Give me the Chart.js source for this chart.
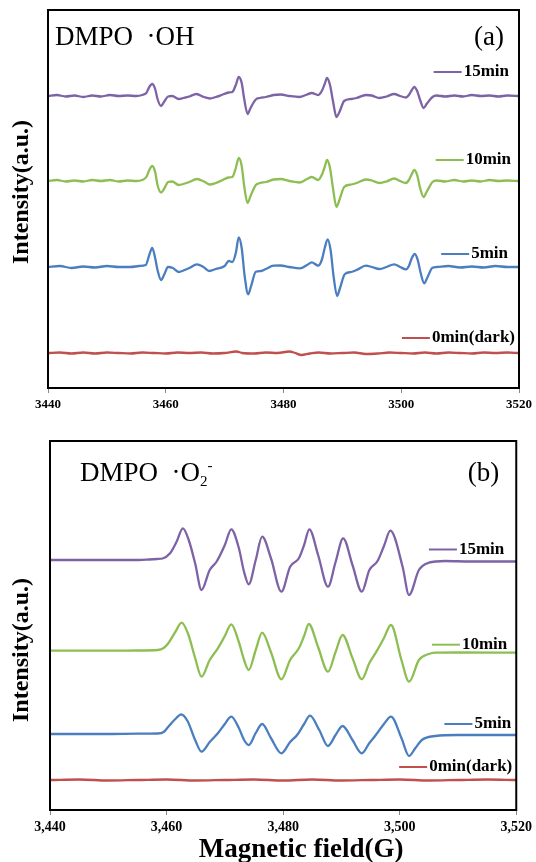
<!DOCTYPE html>
<html>
<head>
<meta charset="utf-8">
<script src="https://cdn.jsdelivr.net/npm/chart.js@4.4.0/dist/chart.umd.min.js"></script>
<style>
    html, body { margin: 0; padding: 0; background: #fff; }
    #wrap { position: relative; width: 536px; height: 862px; }
    #chartA { position: absolute; left: 0; top: 0; }
    #chartB { position: absolute; left: 0; top: 430px; }
</style>
</head>
<body>
<div id="wrap">
    <canvas id="chartA" width="536" height="430"></canvas>
    <canvas id="chartB" width="536" height="432"></canvas>
</div>
<script>
// Magnetic field axis (G)
const fieldMin = 3440;
const fieldMax = 3520;
const fieldStep = 20;

const seriesLabels = ['15min', '10min', '5min', '0min(dark)'];

// Panel (a): DMPO-OH, [field, intensity a.u. incl. vertical offset]
const ohMin15 = [[3440,292],[3441.5,293],[3443,291.5],[3444.5,292.5],[3446,291],[3447.5,292.5],[3449,291.5],[3450.5,293],[3452,292],[3453.5,292.5],[3455,292],[3456,293],[3456.7,295],[3457.2,301],[3457.7,304],[3458.2,299],[3458.6,289],[3459.2,282],[3459.7,286],[3460.4,291.5],[3461.1,292],[3462.2,289],[3463,290],[3464,291.5],[3465.2,294],[3466.5,291],[3467.5,289.5],[3468.5,291],[3469.5,293],[3470.7,295.5],[3471.3,296],[3471.9,303],[3472.4,311],[3472.9,305],[3473.3,290],[3473.9,274],[3474.4,280],[3475.3,288.5],[3476,290],[3477,291],[3478.3,293],[3479.5,293.5],[3481,292],[3482.7,291],[3484,293.5],[3484.8,295],[3485.9,293],[3486.5,297],[3487,304],[3487.4,310],[3487.9,303],[3488.4,287],[3489,271],[3489.5,276],[3490.3,287],[3491.5,289],[3492.4,290],[3494,293],[3495,292.5],[3496.3,290],[3497.5,291.5],[3498.8,294],[3499.8,292],[3500.8,290.5],[3501.3,293],[3501.8,298],[3502.2,301],[3502.7,297],[3503.2,288],[3503.8,280],[3504.3,284],[3505.3,291],[3506,292.5],[3507.5,291.5],[3509,292.5],[3510.5,291.5],[3512,293],[3513.5,292],[3515,292.5],[3516.5,291.5],[3518,292.5],[3520,292]];
const ohMin10 = [[3440,207],[3441.5,208],[3443,206.5],[3444.5,207.5],[3446,206.5],[3447.5,208],[3449,207],[3450.5,208],[3452,206.5],[3453.5,207.5],[3455,207],[3456,208],[3456.7,211],[3457.2,218],[3457.7,222],[3458.2,216],[3458.6,203],[3459.2,195.5],[3459.7,199],[3460.4,206],[3461.1,206.5],[3462.2,203],[3463,204],[3464,206],[3465.3,209],[3466.5,206.5],[3467.5,203.5],[3468.5,205],[3469.5,207.5],[3470.7,210.5],[3471.3,211],[3471.9,220],[3472.4,230],[3472.9,222],[3473.3,203],[3473.9,185],[3474.4,192],[3475.3,203],[3476,205],[3477,206],[3478.3,208.5],[3479.5,209],[3481,207],[3482.7,205.5],[3484,209],[3484.8,211],[3485.9,208],[3486.5,213],[3487,221],[3487.4,228],[3487.9,220],[3488.4,200],[3489,181],[3489.5,188],[3490.3,201],[3491.5,203.5],[3492.4,205],[3494,208.5],[3495,207.5],[3496.3,205],[3497.5,206.5],[3498.8,209.5],[3499.8,207],[3500.8,205],[3501.3,208],[3501.8,214],[3502.2,218],[3502.7,213],[3503.2,200],[3503.8,191],[3504.3,196],[3505.3,206],[3506,207.5],[3507.5,206.5],[3509,208],[3510.5,206.5],[3512,207.5],[3513.5,206.5],[3515,208],[3516.5,207],[3518,207.5],[3520,207]];
const ohMin5 = [[3440,121],[3442,122],[3444,120],[3446,121.5],[3448,120.5],[3450,122],[3452,121],[3454,121],[3455.5,122],[3456.6,123],[3457.2,133],[3457.7,140],[3458.2,130],[3458.6,118],[3459.2,108],[3459.7,113],[3460.4,121],[3461.2,120],[3462.2,116],[3463,117.5],[3464,120],[3465.3,123.7],[3466.4,121],[3467.4,117],[3468.5,119],[3470,122],[3470.7,127],[3471.3,126],[3471.9,135],[3472.4,150.7],[3472.9,140],[3473.4,112],[3474,93.7],[3474.5,102],[3475.3,116.3],[3476.2,117],[3477,119],[3478.3,122.3],[3479.5,122.5],[3481,121],[3482.8,119.7],[3484,123],[3484.8,125.7],[3485.9,122.3],[3486.5,128],[3487,140],[3487.5,148.7],[3488,138],[3488.5,112],[3489.1,92],[3489.6,100],[3490.4,113.7],[3491.5,116],[3492.4,118],[3494,122.3],[3495,121],[3496.3,119],[3497.5,121],[3498.8,123.7],[3499.8,121],[3500.8,118.7],[3501.3,122],[3501.8,130],[3502.3,134],[3502.8,128],[3503.3,115],[3503.9,104.7],[3504.4,110],[3505.3,120.3],[3506,121],[3508,122],[3510,120.5],[3512,121.5],[3514,120.5],[3516,122],[3518,121],[3520,121]];
const ohMin0 = [[3440,35],[3442,35.5],[3444,34.5],[3446,35.5],[3448,34.5],[3450,35.5],[3452,35],[3454,34.5],[3456,35.5],[3458,35],[3460,34.5],[3462,35.5],[3464,35],[3466,35.5],[3468,34.5],[3470,35],[3472,36.5],[3473,35],[3475,34.5],[3477,35.5],[3479,35],[3481,36.5],[3482,35],[3483,33],[3484.5,34.5],[3486,35.5],[3488,34.5],[3490,35],[3492,35.5],[3494,34],[3496,34.5],[3498,35.5],[3500,35],[3502,34.5],[3504,35.5],[3506,34.5],[3508,35.5],[3510,35],[3512,34.5],[3514,35.5],[3516,35],[3518,35.5],[3520,35]];

// Panel (b): DMPO-O2-
const o2Min15 = [[3440,250],[3445,250],[3450,250],[3455.3,250],[3457,250.5],[3458.4,251],[3459.3,251.5],[3460.6,256.7],[3461.7,268],[3462.8,281.7],[3463.8,270],[3464.9,246.7],[3466,220],[3467.4,240],[3468.6,248.5],[3470,265],[3471.1,280.7],[3472.4,262],[3473.3,238],[3474.1,225.7],[3475.3,250],[3476.4,273.3],[3477.9,252],[3479.7,218.3],[3481.2,243.3],[3482.7,251.7],[3483.6,265],[3484.5,280.7],[3486,255],[3487.7,223.3],[3489,248],[3490.3,271.7],[3491.9,245],[3493.5,218.3],[3494.8,240],[3496.2,249],[3497.3,264],[3498.4,279.3],[3500.5,243.3],[3501.6,215],[3503.3,240],[3505,247.3],[3507.8,249],[3512,248.5],[3520,248.5]];
const o2Min10 = [[3440,159.3],[3450,159.3],[3455,159.5],[3458.5,160],[3459.5,162],[3460.3,166.7],[3461.5,178],[3462.6,187.3],[3463.7,176],[3464.9,152],[3466,133.3],[3467.4,150],[3468.8,161.7],[3470,174],[3471.1,185.7],[3472.4,168],[3473.3,150],[3474.1,140],[3475.3,160],[3476.4,177.3],[3477.9,158],[3479.7,130.7],[3481.2,150],[3482.7,161.7],[3483.6,174],[3484.4,186],[3486,163],[3487.7,138.3],[3489,158],[3490.2,175],[3491.9,152],[3493.5,130.7],[3494.8,147],[3496,158.3],[3497.3,172],[3498.5,185],[3500.3,150],[3501.6,128.3],[3503.3,150],[3505,156],[3506.1,157.3],[3510,157.5],[3520,157.3]];
const o2Min5 = [[3440,76],[3450,76],[3455,76.3],[3458.5,76.5],[3459.5,78],[3460.3,83.3],[3461.5,91],[3462.5,95.7],[3463.6,89],[3464.9,70],[3466,58.3],[3467.4,68],[3468.8,76.7],[3470,86],[3471.1,93.3],[3472.4,82],[3473.3,70],[3474.1,65],[3475.3,77],[3476.4,86],[3477.9,72],[3479.7,56.7],[3481.2,68],[3482.4,75],[3483.6,86],[3484.6,94.3],[3486.2,80],[3487.7,64],[3489,75],[3490.2,84],[3491.9,70],[3493.5,56.7],[3494.8,67],[3495.9,75],[3497.3,86],[3498.5,93.3],[3500.3,72],[3501.6,54],[3502.7,62],[3503.8,70],[3506.1,74],[3510,75],[3520,75]];
const o2Min0 = [[3440,30],[3445,30.5],[3450,29.5],[3455,30],[3460,30.5],[3465,29.5],[3470,30],[3475,30.5],[3480,29.5],[3485,30.5],[3490,29.5],[3495,30],[3500,30.5],[3505,29.5],[3510,30],[3515,30.5],[3520,30]];

const seriesColors = ['#7D62A6', '#8DBE52', '#4A7EBF', '#C0504D'];

function toXY(pairs) {
    return pairs.map(p => ({ x: p[0], y: p[1] }));
}

function makeDatasets(list) {
    return list.map((pairs, i) => ({
        label: seriesLabels[i],
        data: toXY(pairs),
        borderColor: seriesColors[i],
        borderWidth: 2.3,
        pointRadius: 0,
        fill: false,
        cubicInterpolationMode: 'monotone'
    }));
}

// Draws frame, panel tag, axis titles and the inline labels next to each trace
function makePanelPlugin(opts) {
    return {
        id: 'panel',
        afterDraw(chart) {
            const ctx = chart.ctx;
            const area = chart.chartArea;
            const yScale = chart.scales.y;
            ctx.save();

            ctx.strokeStyle = '#000';
            ctx.lineWidth = 2;
            ctx.strokeRect(area.left, area.top, area.right - area.left, area.bottom - area.top);

            ctx.fillStyle = '#000';
            ctx.textBaseline = 'alphabetic';
            ctx.textAlign = 'left';

            // tag like "DMPO ·OH", pieces may be sub/superscript
            let x = area.left + opts.tagX;
            const baseY = area.top + opts.tagY;
            opts.tag.forEach(piece => {
                const size = piece.small ? 15 : 27;
                ctx.font = size + 'px "Liberation Serif"';
                ctx.fillText(piece.text, x, baseY + piece.shift);
                x += ctx.measureText(piece.text).width;
            });

            ctx.font = '27px "Liberation Serif"';
            ctx.textAlign = 'right';
            ctx.fillText(opts.letter, area.right - opts.letterRight, baseY);

            // y axis title
            ctx.save();
            ctx.translate(opts.yTitleX, opts.yTitleY);
            ctx.rotate(-Math.PI / 2);
            ctx.textAlign = 'center';
            ctx.textBaseline = 'middle';
            ctx.font = 'bold 24px "Liberation Serif"';
            ctx.fillText('Intensity(a.u.)', 0, 0);
            ctx.restore();

            if (opts.xTitle) {
                ctx.textAlign = 'center';
                ctx.textBaseline = 'middle';
                ctx.font = 'bold 27px "Liberation Serif"';
                ctx.fillText(opts.xTitle, (area.left + area.right) / 2 + 18, area.bottom + 40);
            }

            // inline legend
            ctx.font = 'bold 17px "Liberation Serif"';
            ctx.textBaseline = 'middle';
            opts.legend.forEach((item, i) => {
                const ds = chart.data.datasets[i];
                const last = ds.data[ds.data.length - 1];
                const y = yScale.getPixelForValue(last.y) - item.dy;
                const right = area.right - item.right;
                ctx.textAlign = 'right';
                ctx.fillStyle = '#000';
                ctx.fillText(ds.label, right, y);
                const left = right - ctx.measureText(ds.label).width - 2;
                ctx.strokeStyle = ds.borderColor;
                ctx.lineWidth = 2;
                ctx.beginPath();
                ctx.moveTo(left - 28, y);
                ctx.lineTo(left, y);
                ctx.stroke();
            });

            ctx.restore();
        }
    };
}

function makeChart(canvasId, datasets, yMax, pad, axisHeight, tickFont, tickFmt, panelOpts) {
    return new Chart(document.getElementById(canvasId), {
        type: 'line',
        data: { datasets: datasets },
        options: {
            responsive: false,
            animation: false,
            layout: { padding: pad },
            plugins: {
                legend: { display: false },
                tooltip: { enabled: false }
            },
            scales: {
                x: {
                    type: 'linear',
                    min: fieldMin,
                    max: fieldMax,
                    afterFit: scale => { scale.height = axisHeight; },
                    ticks: {
                        stepSize: fieldStep,
                        maxRotation: 0,
                        padding: 4,
                        color: '#000',
                        font: { family: 'Liberation Serif', weight: 'bold', size: tickFont },
                        callback: tickFmt
                    },
                    grid: { drawOnChartArea: false, tickLength: 5, color: '#888' },
                    border: { display: false }
                },
                y: { display: false, min: 0, max: yMax }
            }
        },
        plugins: [makePanelPlugin(panelOpts)]
    });
}

makeChart('chartA', makeDatasets([ohMin15, ohMin10, ohMin5, ohMin0]), 378,
    { left: 48, right: 16, top: 10, bottom: 0 }, 42, 13,
    v => String(v),
    {
        tag: [{ text: 'DMPO  \u00B7OH', small: false, shift: 0 }],
        tagX: 7, tagY: 35,
        letter: '(a)', letterRight: 15,
        yTitleX: 22, yTitleY: 192,
        legend: [{ dy: 24, right: 10 }, { dy: 21, right: 8 }, { dy: 13, right: 11 }, { dy: 15, right: 4 }]
    });

makeChart('chartB', makeDatasets([o2Min15, o2Min10, o2Min5, o2Min0]), 369,
    { left: 50, right: 14, top: 11, bottom: 0 }, 52, 14,
    v => v.toLocaleString('en-US'),
    {
        tag: [
            { text: 'DMPO  \u00B7O', small: false, shift: 0 },
            { text: '2', small: true, shift: 5 },
            { text: '-', small: true, shift: -11 }
        ],
        tagX: 30, tagY: 40,
        letter: '(b)', letterRight: 17,
        yTitleX: 22, yTitleY: 220,
        xTitle: 'Magnetic field(G)',
        legend: [{ dy: 12, right: 12 }, { dy: 8, right: 9 }, { dy: 11, right: 5 }, { dy: 13, right: 4 }]
    });
</script>
</body>
</html>
